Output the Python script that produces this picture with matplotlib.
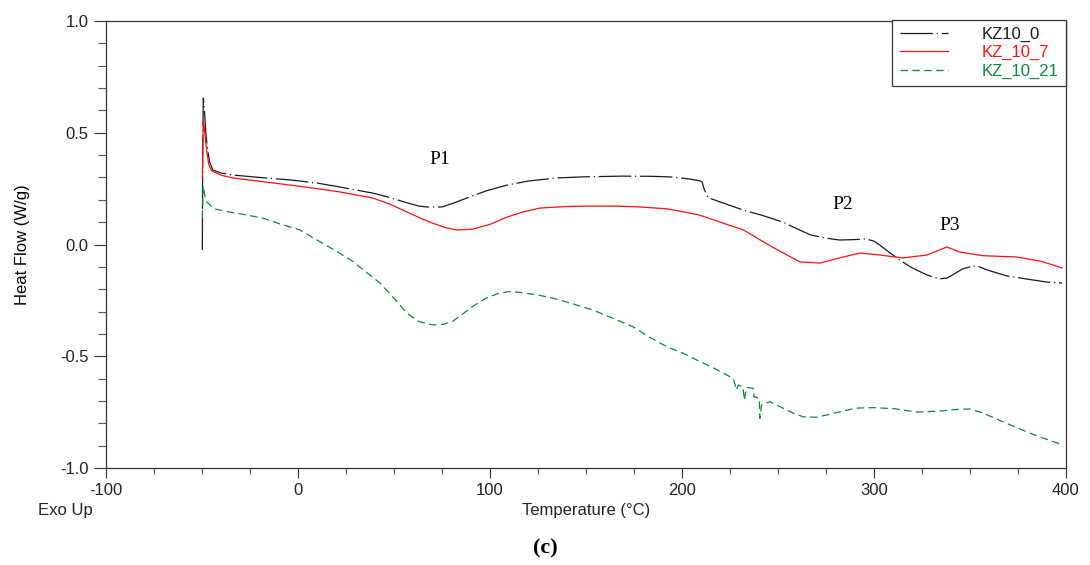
import numpy as np
import matplotlib
matplotlib.use("Agg")
import matplotlib.pyplot as plt
from matplotlib.ticker import MultipleLocator

plt.rcParams['font.family'] = ['Liberation Sans', 'DejaVu Sans']
plt.rcParams['axes.unicode_minus'] = False

# KZ10_0 (black)
t_0 = [-49.8, -49.6, -49.3, -48.7, -48.0, -47.0, -46.0, -44.3, -40, -34, -20, -4, 10, 22, 39, 48,
       57, 63, 67, 75, 81, 88, 98, 109, 120, 135, 150, 169, 185, 195, 204, 209.4, 210.5, 211.5,
       213.5, 220, 232, 242, 252.6, 260, 267, 274, 282, 290, 296, 300, 303, 308, 313.5, 320,
       327.6, 334, 338, 341, 346, 351.6, 355, 359, 369, 380, 390, 398]
hf_0 = [-0.025, 0.40, 0.655, 0.60, 0.50, 0.42, 0.37, 0.333, 0.32, 0.311, 0.30, 0.289, 0.275, 0.257,
        0.23, 0.21, 0.186, 0.172, 0.168, 0.168, 0.185, 0.208, 0.24, 0.266, 0.284, 0.298, 0.303,
        0.306, 0.305, 0.302, 0.293, 0.285, 0.28, 0.25, 0.21, 0.19, 0.154, 0.13, 0.10, 0.07, 0.043,
        0.03, 0.02, 0.022, 0.025, 0.015, -0.002, -0.035, -0.07, -0.105, -0.136, -0.154, -0.15,
        -0.136, -0.11, -0.096, -0.1, -0.114, -0.14, -0.155, -0.168, -0.172]

# KZ_10_7 (red)
t_7 = [-49.8, -49.3, -48.5, -47.5, -46.5, -45, -40, -34, -20, -4, 10, 22, 39, 48, 57, 65, 70, 77,
       83, 91, 100, 109, 117, 126, 140, 152, 165, 178, 192, 204, 209, 220, 232, 247, 261.5, 272,
       282, 292.7, 303, 315, 327.6, 334, 338, 344.8, 356.8, 374.5, 387, 398]
hf_7 = [0.30, 0.56, 0.50, 0.42, 0.36, 0.33, 0.31, 0.298, 0.283, 0.266, 0.25, 0.235, 0.208, 0.18,
        0.145, 0.113, 0.096, 0.075, 0.065, 0.069, 0.09, 0.123, 0.145, 0.163, 0.17, 0.172, 0.172,
        0.168, 0.16, 0.141, 0.132, 0.10, 0.065, -0.011, -0.078, -0.083, -0.06, -0.038, -0.047,
        -0.06, -0.047, -0.025, -0.011, -0.034, -0.05, -0.056, -0.075, -0.105]

# KZ_10_21 (green)
t_21 = [-49.8, -49.4, -48.5, -47.5, -45.8, -44, -35.4, -28, -18.2, -9.7, 1, 8.9, 16, 22, 28, 35,
        42.7, 50, 56.6, 63, 70.3, 76, 80.7, 86, 91.2, 98, 105, 111, 117.2, 125, 132.8, 143, 153.6,
        164, 174.5, 183, 192, 200.5, 207.8, 217, 226.7, 228.5, 229.3, 231.5, 231.9, 232.5, 233.7,
        237.2, 237.5, 240.3, 240.6, 241.5, 245.8, 252.8, 258, 263.2, 270, 277, 284, 291, 300, 311,
        322, 335, 343, 350, 357, 365, 374.5, 386, 398.5]
hf_21 = [0.12, 0.262, 0.22, 0.19, 0.177, 0.16, 0.145, 0.134, 0.118, 0.093, 0.065, 0.025, -0.01,
         -0.04, -0.072, -0.12, -0.172, -0.24, -0.306, -0.345, -0.36, -0.357, -0.343, -0.31, -0.276,
         -0.24, -0.217, -0.21, -0.216, -0.226, -0.24, -0.265, -0.293, -0.33, -0.368, -0.414,
         -0.457, -0.486, -0.517, -0.555, -0.599, -0.651, -0.629, -0.635, -0.644, -0.696, -0.639,
         -0.644, -0.681, -0.688, -0.778, -0.718, -0.703, -0.733, -0.755, -0.771, -0.773, -0.76,
         -0.745, -0.732, -0.73, -0.735, -0.75, -0.745, -0.738, -0.736, -0.755, -0.785, -0.82,
         -0.86, -0.897]

peak_labels = ['P1', 'P2', 'P3']
peak_pos = [(74, 0.38), (284, 0.18), (339.5, 0.085)]

fig = plt.figure(figsize=(10.9, 5.65), dpi=100)
ax = fig.add_axes([0.0972, 0.1717, 0.8807, 0.7911])

ax.plot(t_0, hf_0, color='#1a1a1a', lw=0.9, ls=(0, (26, 3, 1, 3)), label='KZ10_0')
ax.plot(t_7, hf_7, color='#ff1010', lw=0.9, label='KZ_10_7')
ax.plot(t_21, hf_21, color='#0a8a3c', lw=0.9, ls=(0, (6, 3.5)), label='KZ_10_21')

for lab, (px, py) in zip(peak_labels, peak_pos):
    ax.text(px, py, lab, family='Liberation Serif', fontsize=14, ha='center', va='center')

ax.set_xlim(-100, 400)
ax.set_ylim(-1.0, 1.0)
ax.xaxis.set_major_locator(MultipleLocator(100))
ax.xaxis.set_minor_locator(MultipleLocator(25))
ax.yaxis.set_major_locator(MultipleLocator(0.5))
ax.yaxis.set_minor_locator(MultipleLocator(0.1))
ax.yaxis.set_major_formatter(plt.FuncFormatter(lambda v, p: f'{v:.1f}'))
ax.tick_params(which='major', length=7, width=0.8, labelsize=12, colors='#333333', labelcolor='#222222')
ax.tick_params(which='minor', length=4, width=0.8, colors='#555555')
ax.tick_params(axis='y', which='major', length=9)
ax.tick_params(axis='y', which='minor', length=6)
for s in ax.spines.values():
    s.set_color('#333333')
    s.set_linewidth(0.9)

ax.set_ylabel('Heat Flow (W/g)', fontsize=12, labelpad=22)

fig.text(65 / 1090, 1 - 511 / 565, 'Exo Up', fontsize=12, ha='center', va='center', color='#222222')
fig.text(586 / 1090, 1 - 511 / 565, 'Temperature (°C)', fontsize=12, ha='center', va='center',
         color='#222222')
fig.text(545 / 1090, 1 - 548 / 565, '(c)', family='Liberation Serif', fontsize=16,
         fontweight='bold', ha='center', va='center')

leg = ax.legend(loc='upper right', bbox_to_anchor=(1.0, 1.003), borderaxespad=0, fontsize=12,
                fancybox=False, framealpha=1, edgecolor='#333333', handlelength=2.9,
                handletextpad=2.0, labelspacing=0.18, borderpad=0.45, labelcolor='linecolor')
leg.get_frame().set_linewidth(0.9)

fig.savefig('out.png', dpi=100)
